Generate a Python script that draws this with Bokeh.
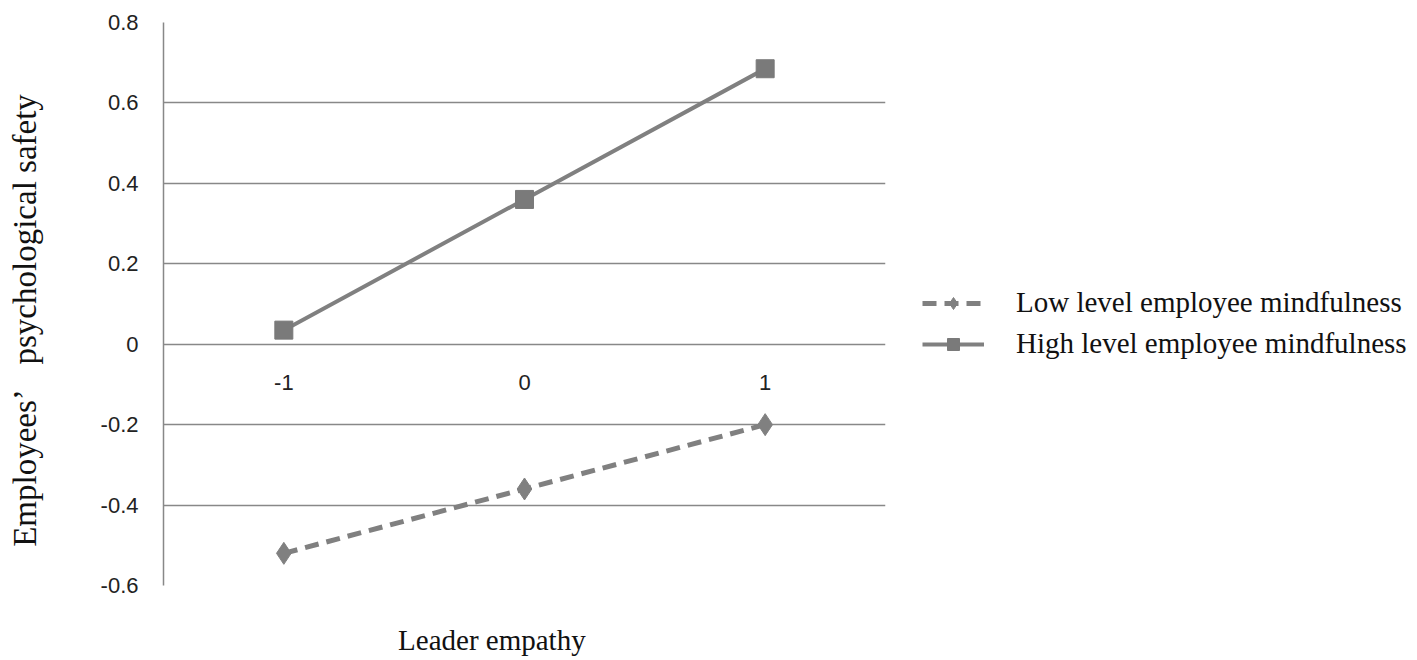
from bokeh.plotting import figure
from bokeh.models import Range1d, FixedTicker, Legend, LegendItem, ColumnDataSource
from bokeh.core.properties import value
from bokeh.embed import file_html
from bokeh.resources import INLINE

# ---- data ----
x_levels = [-1, 0, 1]
x_labels = ["-1", "0", "1"]
low_values = [-0.52, -0.36, -0.20]
high_values = [0.035, 0.36, 0.685]
y_ticks = [-0.6, -0.4, -0.2, 0.0, 0.2, 0.4, 0.6, 0.8]
y_tick_labels = ["-0.6", "-0.4", "-0.2", "0", "0.2", "0.4", "0.6", "0.8"]
series_names = ["Low level employee mindfulness", "High level employee mindfulness"]
x_title = "Leader empathy" + "\u00a0" * 9
y_title = "Employees\u2019\u00a0\u00a0\u00a0psychological safety\u00a0\u00a0\u00a0\u00a0"

GRAY = "#808080"
SERIF = "Liberation Serif"
SANS = "Liberation Sans"

p = figure(frame_width=722, frame_height=563, output_backend="svg", toolbar_location=None,
           x_range=Range1d(-1.5, 1.5), y_range=Range1d(-0.6, 0.8),
           min_border_left=163, min_border_top=22, min_border_bottom=72,
           min_border_right=10)
p.outline_line_color = None
p.background_fill_color = "white"
p.border_fill_color = "white"

# y axis
p.yaxis.ticker = FixedTicker(ticks=y_ticks)
p.yaxis.major_label_overrides = {t: l for t, l in zip(y_ticks, y_tick_labels)}
p.yaxis.axis_line_color = "#888888"
p.yaxis.axis_line_width = 1.5
p.yaxis.major_tick_line_color = None
p.yaxis.minor_tick_line_color = None
p.yaxis.major_label_standoff = 19
p.yaxis.major_label_text_font = SANS
p.yaxis.major_label_text_font_size = "22px"
p.yaxis.major_label_text_color = "#222222"
p.yaxis.axis_label = y_title
p.yaxis.axis_label_text_font = SERIF
p.yaxis.axis_label_text_font_style = "normal"
p.yaxis.axis_label_text_font_size = "33px"
p.yaxis.axis_label_text_color = "#111111"
p.yaxis.axis_label_standoff = 55

# x axis: title only (tick labels are drawn on the zero line)
p.xaxis.ticker = FixedTicker(ticks=[])
p.xaxis.axis_line_color = None
p.xaxis.major_tick_line_color = None
p.xaxis.minor_tick_line_color = None
p.xaxis.major_tick_out = 0
p.xaxis.major_tick_in = 0
p.xaxis.minor_tick_out = 0
p.xaxis.major_label_standoff = 0
p.xaxis.axis_label = x_title
p.xaxis.axis_label_text_font = SERIF
p.xaxis.axis_label_text_font_style = "normal"
p.xaxis.axis_label_text_font_size = "29px"
p.xaxis.axis_label_text_color = "#111111"
p.xaxis.axis_label_standoff = 38

# grid
p.xgrid.grid_line_color = None
p.ygrid.ticker = FixedTicker(ticks=y_ticks)
p.ygrid.grid_line_color = "#888888"
p.ygrid.grid_line_width = 1.5

# x tick labels at y = 0
src_lab = ColumnDataSource(dict(x=x_levels, y=[0] * len(x_levels), t=x_labels))
p.text(x="x", y="y", text="t", source=src_lab, text_align="center",
       text_baseline="middle", y_offset=38, text_font=value(SANS),
       text_font_size="22px", text_color="#222222")

# series
src_low = ColumnDataSource(dict(x=x_levels, y=low_values))
src_high = ColumnDataSource(dict(x=x_levels, y=high_values))

l_low = p.line("x", "y", source=src_low, line_color=GRAY, line_width=5, line_dash="14 8")
m_low = p.scatter("x", "y", source=src_low, marker="diamond", size=22,
                  fill_color=GRAY, line_color=GRAY)
l_high = p.line("x", "y", source=src_high, line_color=GRAY, line_width=4)
m_high = p.scatter("x", "y", source=src_high, marker="square", size=18,
                   fill_color="#7a7a7a", line_color="#7a7a7a")

legend = Legend(items=[LegendItem(label=series_names[0], renderers=[l_low, m_low]),
                       LegendItem(label=series_names[1], renderers=[l_high, m_high])],
                location=(37, 225), orientation="vertical")
legend.border_line_color = None
legend.background_fill_alpha = 0
legend.label_text_font = SERIF
legend.label_text_font_size = "29px"
legend.label_text_color = "#111111"
legend.glyph_width = 62
legend.glyph_height = 30
legend.label_standoff = 32
legend.spacing = 8
legend.padding = 0
legend.margin = 0
p.add_layout(legend, "right")

open("out.html", "w").write(file_html(p, INLINE))
